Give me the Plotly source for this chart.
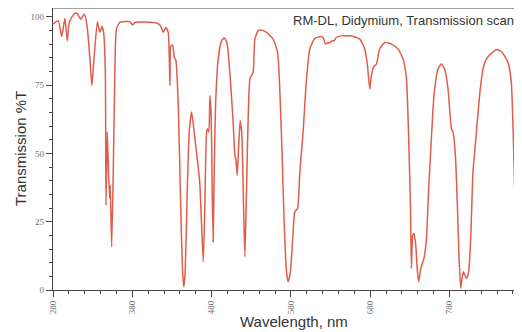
import plotly.graph_objects as go

wavelength = [280, 286.7, 291, 295, 298, 300.5, 306.5, 310, 315, 319.5, 323, 326.6, 329, 331.7, 336, 339,
              341.8, 344, 346, 346.8, 348.4, 350, 351.5, 352.2, 354, 356, 358, 360, 364.5, 377, 380.4, 383.7,
              410.7, 415.7, 419, 422.4, 425.3, 427.5, 428.7, 430.9, 432.9, 435, 438, 441, 443.4, 445, 446.7,
              449.3, 451.8, 454.8, 459, 465, 469.5, 471.5, 473.7, 475, 476.6, 477.9, 479.5, 480.8, 482, 483.3,
              485, 488.3, 492.6, 495.9, 499.3, 503, 507.2, 509.4, 510.6, 512.3, 514, 516, 518.2, 520.3, 522,
              524.1, 526, 528.3, 530.4, 532.4, 534.6, 538.7, 543, 549.3, 557.6, 563.2, 566, 569, 571.5, 574.5,
              576.5, 579.5, 582.8, 585, 588.4, 591.3, 595.4, 599.7, 603.9, 610.2, 617.7, 620.6, 623.7, 627,
              629, 632, 634.5, 637.5, 643.8, 654, 658.5, 667, 673.2, 676.6, 679.5, 681.6, 684, 688, 692, 698.4,
              706.8, 715.2, 721.5, 725.8, 728.6, 730.8, 732, 733.7, 735.3, 737.5, 739.6, 741.2, 743.8, 747.9,
              751, 753.8, 757.2, 760.5, 765.6, 769.8, 774, 778.2, 782.5, 784.5, 787.5, 790, 792, 794.2, 795.8,
              797.6, 799.2, 801.7, 804.3, 806.8, 809.7, 814, 818, 822.3, 826.5, 832.9, 840.4, 846.3, 853.8,
              858, 860, 862.3, 864.4, 865.7, 867.3, 869.4, 871]

transmission = [97.3, 98.5, 92.8, 99.4, 91.2, 98, 101, 101.3, 99.1, 101, 96.7, 84.5, 74.8, 84.6, 98.2, 94.3,
                96.5, 93.7, 79.7, 31, 57.8, 43, 33.6, 38.3, 15.8, 43, 79.7, 95.5, 98, 98.2, 97, 98,
                97.7, 96.7, 94.3, 96.1, 94.3, 74.8, 89.4, 89.7, 85.2, 84, 67.5, 31, 6.7, 1.2, 6.7,
                35.9, 57.8, 65.1, 55.4, 39.5, 10.3, 31, 57.8, 59, 57.8, 71.2, 63.9, 35.9, 17.6, 43.2,
                67.5, 84.5, 91.2, 92.2, 90.6, 79.7, 61.4, 49.3, 48, 42, 51.7, 62, 56.6, 31, 12.2,
                37.1, 61.4, 77.2, 78.5, 79.7, 91.8, 94.9, 95.1, 94.3, 91.8, 87, 73.6, 49.3, 24.9, 6.7,
                3, 6.7, 21.3, 28.6, 29.8, 43.2, 57.8, 77.2, 88.2, 92.1, 92.8, 92.5, 90, 90.6,
                90.4, 91.2, 91.2, 92.5, 93, 93, 92.8, 91.8, 88.2, 82.1, 73.6, 78.5, 81.5, 82.7, 88.2, 90.6,
                90, 88.2, 84.5, 77.2, 55.4, 31, 7.9, 20, 20.7, 16.4, 6.7, 3, 7.9, 11.6,
                18.9, 37.1, 55.4, 71.2, 80.9, 82.7, 80.9, 73.6, 59, 57.8, 49.3, 31, 12.8, 0.6, 4.3,
                6.7, 5.5, 4.3, 6.7, 18.9, 43.2, 57.8, 71.2, 80.9, 84.5, 86.6, 88, 87, 83.3,
                76, 61.4, 37.1, 18.9, 13.4, 18.9, 43.2, 63.9]

x_ticks = [280, 380, 480, 580, 680, 780]
y_ticks = [0, 25, 50, 75, 100]
chart_label = "RM-DL, Didymium, Transmission scan"
x_title = "Wavelength, nm"
y_title = "Transmission %T"

fig = go.Figure()
fig.add_trace(go.Scatter(x=wavelength, y=transmission, mode="lines",
                         line=dict(color="#e05c4b", width=1.5, shape="spline", smoothing=0.5),
                         hoverinfo="skip", showlegend=False))

tick_font = dict(family="Liberation Serif", size=9, color="#707070")
# page body has an 8px default margin, so the figure is sized/placed to compensate
fig.update_layout(
    width=514, height=324,
    margin=dict(l=45, r=0, t=0, b=42),
    paper_bgcolor="white", plot_bgcolor="white",
    xaxis=dict(range=[280, 871.5], tickvals=x_ticks, ticktext=[str(v) for v in x_ticks],
               tickangle=-90, ticks="outside", ticklen=6, tickcolor="#444", tickwidth=1,
               showline=True, linecolor="#444", linewidth=1.2, showgrid=False, zeroline=False,
               tickfont=tick_font,
               minor=dict(dtick=20, tick0=280, ticks="outside", ticklen=3, tickcolor="#444", showgrid=False)),
    yaxis=dict(range=[0, 103.2], tickvals=y_ticks, ticktext=[str(v) for v in y_ticks],
               ticks="outside", ticklen=6, tickcolor="#444", tickwidth=1,
               showline=True, linecolor="#444", linewidth=1.2, showgrid=False, zeroline=False,
               tickfont=tick_font,
               minor=dict(dtick=5, tick0=0, ticks="outside", ticklen=3, tickcolor="#444", showgrid=False)),
    shapes=[dict(type="line", xref="paper", yref="paper", x0=0, x1=1, y0=1, y1=1,
                 line=dict(color="#444", width=1.2))],
    annotations=[
        dict(text=chart_label, xref="paper", yref="paper", x=0.988, y=0.954,
             xanchor="right", yanchor="middle", showarrow=False,
             font=dict(family="Liberation Sans", size=13, color="#333333")),
        dict(text=x_title, xref="paper", yref="paper", x=0.514, y=-0.11,
             xanchor="center", yanchor="middle", showarrow=False,
             font=dict(family="Liberation Sans", size=15, color="#333333")),
        dict(text=y_title, xref="paper", yref="paper", x=-0.0704, y=0.5035, textangle=-90,
             xanchor="center", yanchor="middle", showarrow=False,
             font=dict(family="Liberation Sans", size=15, color="#333333")),
    ],
)

fig.write_html("out.html")
